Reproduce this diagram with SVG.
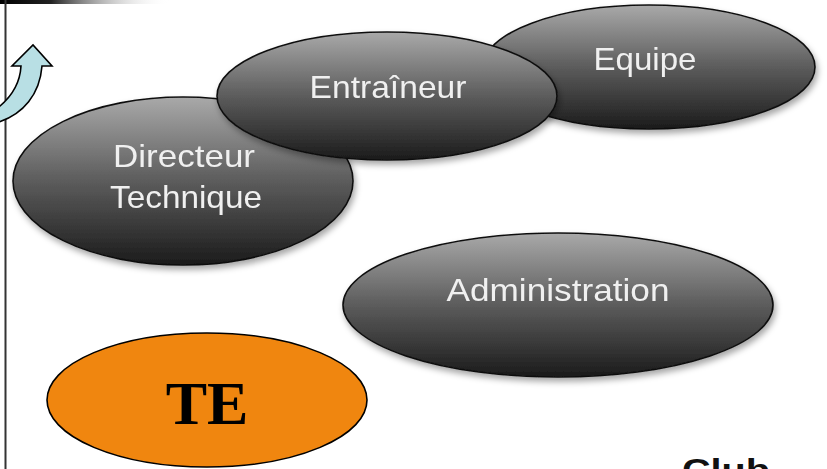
<svg xmlns="http://www.w3.org/2000/svg" width="827" height="469" viewBox="0 0 827 469">
<style>
.node{stroke:#111;stroke-width:1.6}
.dark{fill:url(#g)}
.lbl{font-family:"Liberation Sans","DejaVu Sans",sans-serif;font-size:32px;fill:#f0f0f0;text-anchor:middle}
</style>
<defs>
<linearGradient id="g" x1="0" y1="0" x2="0" y2="1">
<stop offset="0" stop-color="#a9a9a9"/>
<stop offset="0.5" stop-color="#5c5c5c"/>
<stop offset="1" stop-color="#1b1b1b"/>
</linearGradient>
<linearGradient id="bar" x1="0" y1="0" x2="1" y2="0">
<stop offset="0" stop-color="#000"/>
<stop offset="0.3" stop-color="#222"/>
<stop offset="1" stop-color="#fff" stop-opacity="0"/>
</linearGradient>
<filter id="sh" x="-10%" y="-10%" width="125%" height="130%">
<feDropShadow dx="2" dy="4" stdDeviation="3" flood-color="#000" flood-opacity="0.35"/>
</filter>
</defs>
<rect width="827" height="469" fill="#fff"/>
<rect x="0" y="0" width="170" height="4" fill="url(#bar)"/>
<line x1="5.5" y1="0" x2="5.5" y2="469" stroke="#333" stroke-width="2"/>
<g id="connectors">
<path d="M -8 112 C 10 100 20 84 21 66 L 12 66 L 33 45 L 52 66 L 42 66 C 40 92 25 116 -8 124 Z" fill="#b8dfe4" stroke="#000" stroke-width="1.6" stroke-linejoin="miter"/>
</g>
<g id="equipe" filter="url(#sh)">
<ellipse class="node dark" cx="649" cy="67" rx="166" ry="62"/>
<text class="lbl" x="645" y="70" textLength="103" lengthAdjust="spacingAndGlyphs">Equipe</text>
</g>
<g id="directeur" filter="url(#sh)">
<ellipse class="node dark" cx="183" cy="181" rx="170" ry="84"/>
<text class="lbl" x="184" y="167" textLength="142" lengthAdjust="spacingAndGlyphs">Directeur</text>
<text class="lbl" x="186" y="208" textLength="152" lengthAdjust="spacingAndGlyphs">Technique</text>
</g>
<g id="entraineur" filter="url(#sh)">
<ellipse class="node dark" cx="387" cy="96" rx="170" ry="64"/>
<text class="lbl" x="388" y="98" textLength="157" lengthAdjust="spacingAndGlyphs">Entraîneur</text>
</g>
<g id="administration" filter="url(#sh)">
<ellipse class="node dark" cx="558" cy="305" rx="215" ry="72"/>
<text class="lbl" x="558" y="301" textLength="223" lengthAdjust="spacingAndGlyphs">Administration</text>
</g>
<g id="te">
<ellipse cx="207" cy="400" rx="160" ry="67" fill="#f0860f" stroke="#000" stroke-width="1.6"/>
<text x="207" y="424" font-family="Liberation Serif,serif" font-weight="bold" font-size="62" text-anchor="middle" fill="#000">TE</text>
</g>
<text x="682" y="481" font-family="Liberation Sans,sans-serif" font-weight="bold" font-size="32" fill="#111" textLength="88" lengthAdjust="spacingAndGlyphs">Club</text>
</svg>
